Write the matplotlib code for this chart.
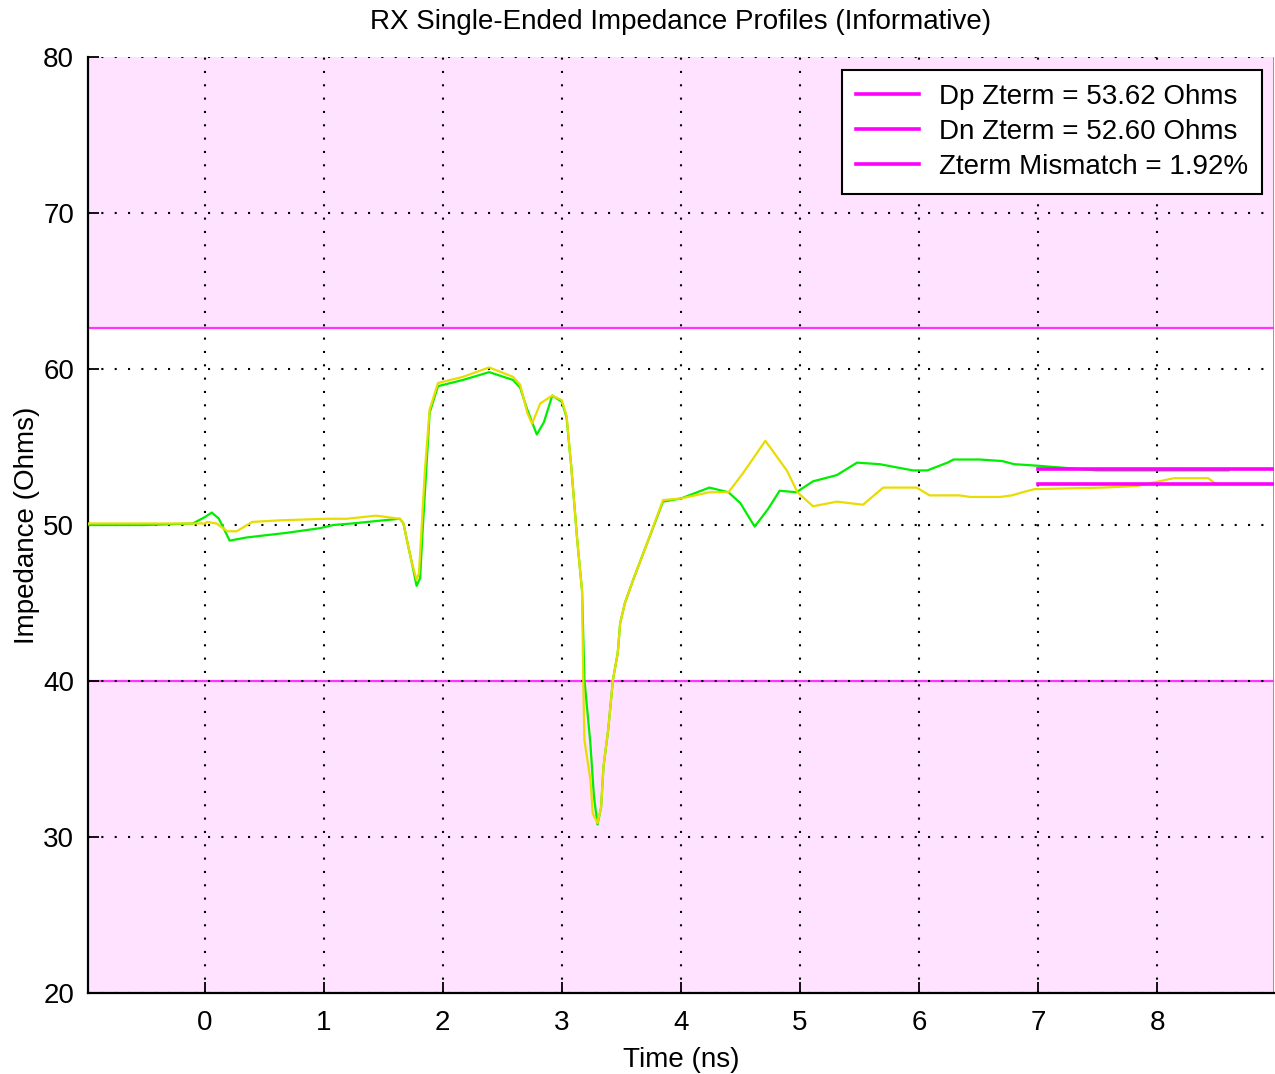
import matplotlib
matplotlib.use("Agg")
import matplotlib.pyplot as plt
from matplotlib.lines import Line2D

plt.rcParams['font.family'] = ['Liberation Sans', 'DejaVu Sans']

# ---- data ----
title = "RX Single-Ended Impedance Profiles (Informative)"
xlabel = "Time (ns)"
ylabel = "Impedance (Ohms)"
xticks = [0, 1, 2, 3, 4, 5, 6, 7, 8]
yticks = [20, 30, 40, 50, 60, 70, 80]

upper_limit = 62.6
lower_limit = 40.0

dp_zterm = 53.62
dn_zterm = 52.60
zterm_start = 7.0
zterm_end = 9.0
legend_labels = ["Dp Zterm = 53.62 Ohms", "Dn Zterm = 52.60 Ohms", "Zterm Mismatch = 1.92%"]

green_t = [-0.98, -0.5, -0.1, 0.0, 0.06, 0.12, 0.21, 0.35, 0.69, 0.97, 1.08, 1.24, 1.50, 1.64,
           1.67, 1.70, 1.74, 1.78, 1.81, 1.83, 1.89, 1.96, 2.17, 2.39, 2.59, 2.65, 2.71, 2.79,
           2.85, 2.92, 3.00, 3.04, 3.08, 3.13, 3.17, 3.19, 3.24, 3.27, 3.30, 3.33, 3.35, 3.39,
           3.43, 3.47, 3.49, 3.53, 3.60, 3.70, 3.85, 4.00, 4.24, 4.40, 4.50, 4.62, 4.73, 4.83,
           4.97, 5.11, 5.31, 5.48, 5.67, 5.95, 6.07, 6.24, 6.29, 6.51, 6.70, 6.80, 7.00, 7.5,
           8.0, 8.6]
green_z = [50.0, 50.0, 50.1, 50.5, 50.8, 50.4, 49.0, 49.2, 49.5, 49.8, 50.0, 50.1, 50.3, 50.4,
           50.1, 49.0, 47.6, 46.1, 46.6, 49.5, 57.2, 58.9, 59.3, 59.8, 59.3, 58.8, 57.4, 55.8,
           56.6, 58.3, 57.9, 56.9, 53.7, 49.0, 45.8, 40.1, 36.0, 32.6, 30.8, 31.9, 34.5, 36.9,
           40.1, 41.8, 43.7, 45.0, 46.5, 48.5, 51.5, 51.7, 52.4, 52.1, 51.4, 49.9, 51.0, 52.2,
           52.1, 52.8, 53.2, 54.0, 53.9, 53.5, 53.5, 54.0, 54.2, 54.2, 54.1, 53.9, 53.8, 53.5,
           53.5, 53.5]

yellow_t = [-0.98, -0.5, 0.0, 0.02, 0.10, 0.19, 0.27, 0.40, 0.63, 1.02, 1.19, 1.44, 1.64,
            1.67, 1.70, 1.74, 1.78, 1.80, 1.82, 1.85, 1.89, 1.96, 2.17, 2.39, 2.59, 2.65,
            2.71, 2.75, 2.82, 2.92, 3.00, 3.04, 3.08, 3.13, 3.17, 3.18, 3.19, 3.24, 3.26,
            3.30, 3.33, 3.35, 3.39, 3.43, 3.47, 3.49, 3.53, 3.60, 3.70, 3.85, 4.00, 4.24,
            4.40, 4.52, 4.71, 4.89, 4.98, 5.11, 5.31, 5.53, 5.70, 5.98, 6.09, 6.34, 6.43,
            6.68, 6.78, 6.87, 6.97, 7.55, 7.83, 8.14, 8.43, 8.5]
yellow_z = [50.1, 50.1, 50.1, 50.2, 50.1, 49.6, 49.6, 50.2, 50.3, 50.4, 50.4, 50.6, 50.4,
            50.1, 49.0, 47.6, 46.5, 46.9, 49.5, 53.5, 57.4, 59.1, 59.5, 60.1, 59.5, 59.0,
            57.2, 56.5, 57.8, 58.3, 58.0, 57.0, 53.7, 49.0, 45.8, 40.1, 36.2, 33.7, 31.5,
            30.9, 31.9, 34.5, 36.9, 40.1, 41.8, 43.7, 45.0, 46.5, 48.5, 51.6, 51.7, 52.1,
            52.1, 53.3, 55.4, 53.5, 52.1, 51.2, 51.5, 51.3, 52.4, 52.4, 51.9, 51.9, 51.8,
            51.8, 51.9, 52.1, 52.3, 52.4, 52.5, 53.0, 53.0, 52.6]

# ---- figure ----
fig = plt.figure(figsize=(12.75, 10.74), dpi=100)
ax = fig.add_axes([0.069, 0.0754, 0.930, 0.8715])

xlim = (-0.98, 8.98)
ylim = (20, 80)
ax.set_xlim(*xlim)
ax.set_ylim(*ylim)

band_face = '#FFE2FF'
ax.axhspan(upper_limit, ylim[1], facecolor=band_face, edgecolor='none', zorder=0)
ax.axhspan(ylim[0], lower_limit, facecolor=band_face, edgecolor='none', zorder=0)
ax.axhline(upper_limit, color='#FF33FF', lw=1.6, zorder=1)
ax.axhline(lower_limit, color='#FF33FF', lw=1.6, zorder=1)
ax.axvline(xlim[1], color='#FF33FF', lw=1.2, zorder=1)

ax.plot(green_t, green_z, color='#00EE00', lw=1.6, zorder=3)
ax.plot(yellow_t, yellow_z, color='#E8DC00', lw=1.6, zorder=4)

h1, = ax.plot([zterm_start, zterm_end], [dp_zterm, dp_zterm], color='#FF00FF', lw=2.6, zorder=5)
h2, = ax.plot([zterm_start, zterm_end], [dn_zterm, dn_zterm], color='#FF00FF', lw=2.6, zorder=5)
h3 = Line2D([], [], color='#FF00FF', lw=2.6)

ax.set_xticks(xticks)
ax.set_yticks(yticks)
ax.set_xticklabels([str(v) for v in xticks])
ax.set_yticklabels([str(v) for v in yticks])
ax.grid(True, color='black', linestyle=(0, (1, 5.4)), lw=1.5)
ax.set_axisbelow(False)
for s in ['top', 'right']:
    ax.spines[s].set_visible(False)
for s in ['left', 'bottom']:
    ax.spines[s].set_linewidth(1.6)
ax.tick_params(direction='in', length=8, width=1.3, labelsize=20)
ax.tick_params(axis='x', pad=12)
ax.tick_params(axis='y', pad=10)

ax.set_title(title, fontsize=20, pad=20)
ax.set_xlabel(xlabel, fontsize=20, labelpad=8)
ax.set_ylabel(ylabel, fontsize=20, labelpad=2)

leg = ax.legend([h1, h2, h3], legend_labels, loc='upper right',
                bbox_to_anchor=(0.990, 0.986), borderaxespad=0, fontsize=20,
                fancybox=False, framealpha=1, edgecolor='black',
                handlelength=2.3, handletextpad=0.7, labelspacing=0.32,
                borderpad=0.5)
leg.get_frame().set_linewidth(1.5)
leg.set_zorder(10)

fig.savefig('out.png', dpi=100)
